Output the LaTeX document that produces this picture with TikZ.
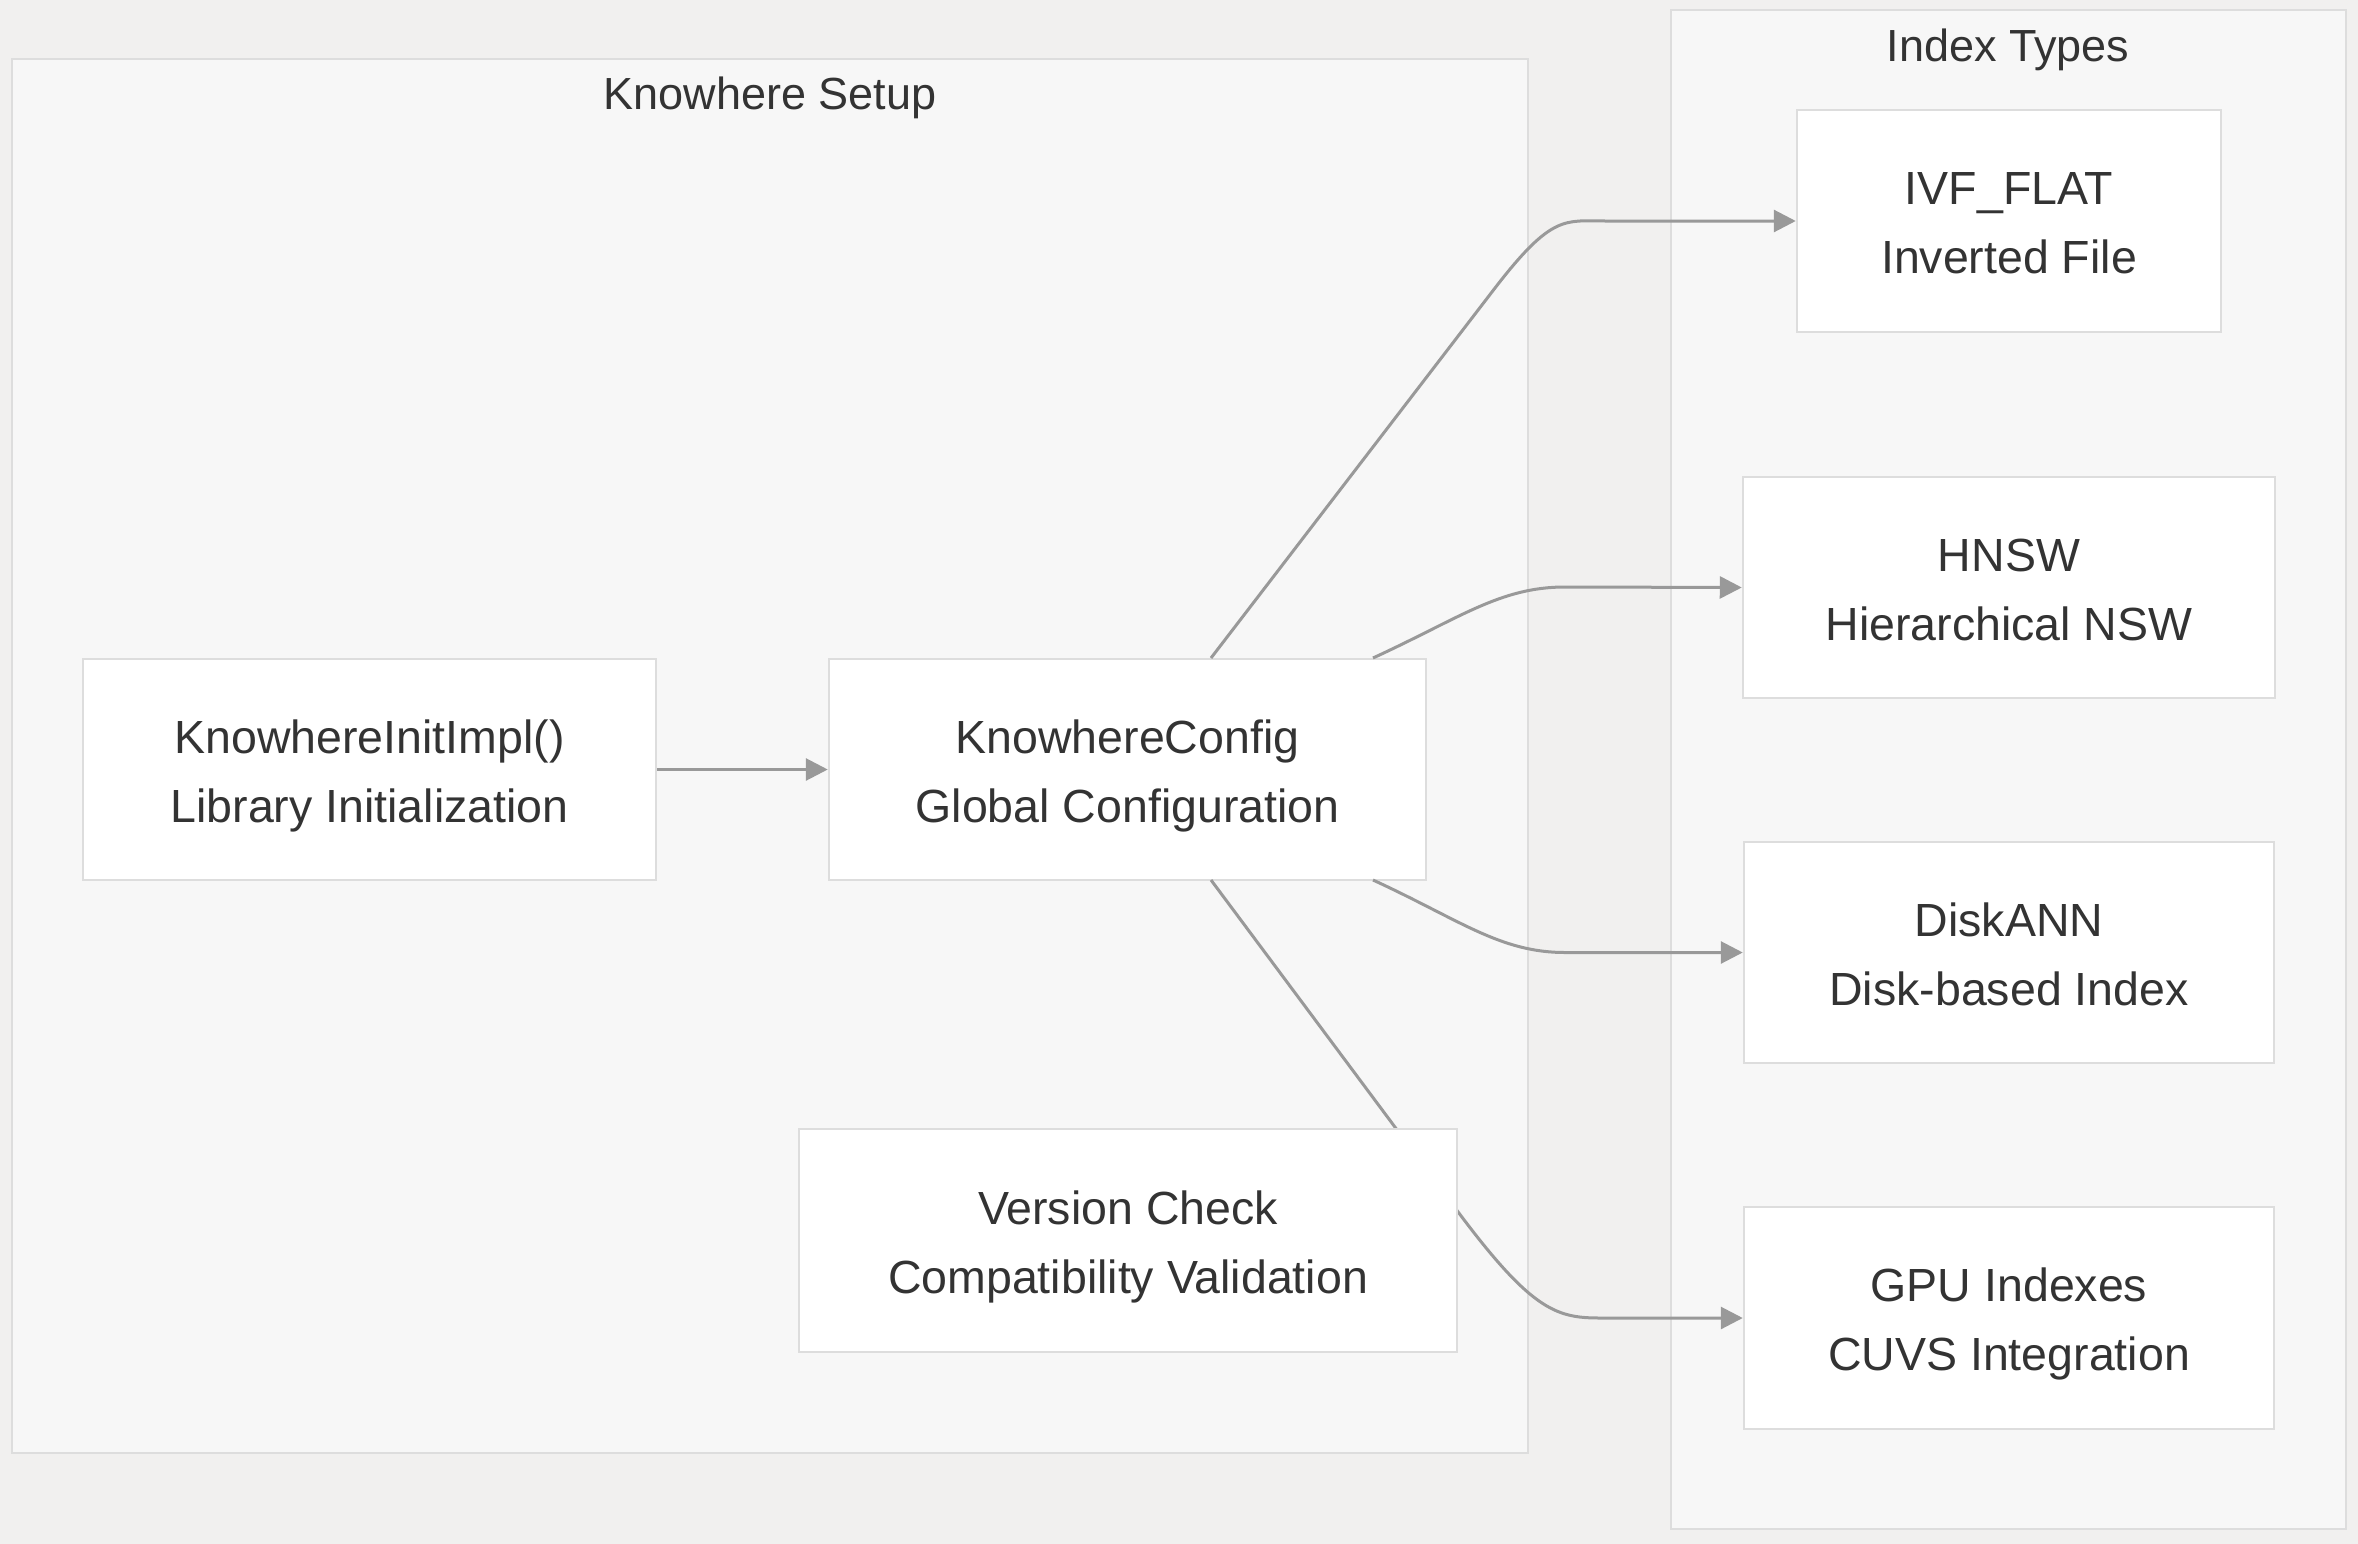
\documentclass[tikz,border=0pt]{standalone}
\usepackage{fontspec}
\setmainfont{Liberation Sans}
\usetikzlibrary{arrows.meta}
\definecolor{bg}{HTML}{F1F0EF}
\definecolor{clfill}{HTML}{F7F7F7}
\definecolor{clborder}{HTML}{DDDDDD}
\definecolor{ndborder}{HTML}{DDDDDD}
\definecolor{edge}{HTML}{999999}
\definecolor{txt}{HTML}{333333}
\newcommand\nodestrut{\rule[-16.5pt]{0pt}{69pt}}
\begin{document}
\begin{tikzpicture}[x=1pt,y=-1pt,
  box/.style={draw=ndborder, fill=white, line width=2.5pt, align=center,
    font=\fontsize{46.5}{69}\selectfont, text=txt, inner sep=0pt},
  cluster/.style={draw=clborder, fill=clfill, line width=2.5pt},
  ctitle/.style={font=\fontsize{45}{54}\selectfont, text=txt, anchor=base},
  conn/.style={draw=edge, line width=3pt, -{Triangle[length=22pt,width=22pt]}}
]
\fill[bg] (0,0) rectangle (2358,1544);
\useasboundingbox (0,0) rectangle (2358,1544);

% clusters
\draw[cluster] (12,59) rectangle (1528,1453);
\node[ctitle] (tsetup) at (770,110) {Knowhere Setup};
\draw[cluster] (1671,10) rectangle (2346,1529);
\node[ctitle] (tindex) at (2008,62) {Index Types};

% nodes
\node[box, minimum width=573pt, minimum height=221pt] (init) at (369.5,769.5) {\nodestrut KnowhereInitImpl()\\\nodestrut Library Initialization};
\node[box, minimum width=597pt, minimum height=221pt] (cfg) at (1127.5,769.5) {\nodestrut KnowhereConfig\\\nodestrut Global Configuration};
\node[box, minimum width=424pt, minimum height=222pt] (ivf) at (2009,221) {\nodestrut IVF\_FLAT\\\nodestrut Inverted File};
\node[box, minimum width=532pt, minimum height=221pt] (hnsw) at (2009,587.5) {\nodestrut HNSW\\\nodestrut Hierarchical NSW};
\node[box, minimum width=530pt, minimum height=221pt] (disk) at (2009,952.5) {\nodestrut DiskANN\\\nodestrut Disk-based Index};
\node[box, minimum width=530pt, minimum height=222pt] (gpu) at (2009,1318) {\nodestrut GPU Indexes\\\nodestrut CUVS Integration};

\coordinate (cfgA) at (1211,658);
\coordinate (cfgB) at (1373,658);
\coordinate (cfgC) at (1373,880);
\coordinate (cfgD) at (1211,880);

% Config -> GPU (passes behind Version Check)
\draw[conn] (cfgD) -- (1450,1201) .. controls (1530,1310) and (1555,1318) .. (1600,1318) -- (gpu.west);

\node[box, minimum width=658pt, minimum height=223pt] (ver) at (1128,1240.5) {\nodestrut Version Check\\\nodestrut Compatibility Validation};

% edges
\draw[conn] (init.east) -- (cfg.west);
\draw[conn] (cfgA) -- (1495,288) .. controls (1552,214) and (1565,221) .. (1605,221) -- (ivf.west);
\draw[conn] (cfgB) .. controls (1460,618) and (1500,587) .. (1565,587) -- (hnsw.west);
\draw[conn] (cfgC) .. controls (1460,920) and (1500,952.5) .. (1565,952.5) -- (disk.west);
\end{tikzpicture}
\end{document}
